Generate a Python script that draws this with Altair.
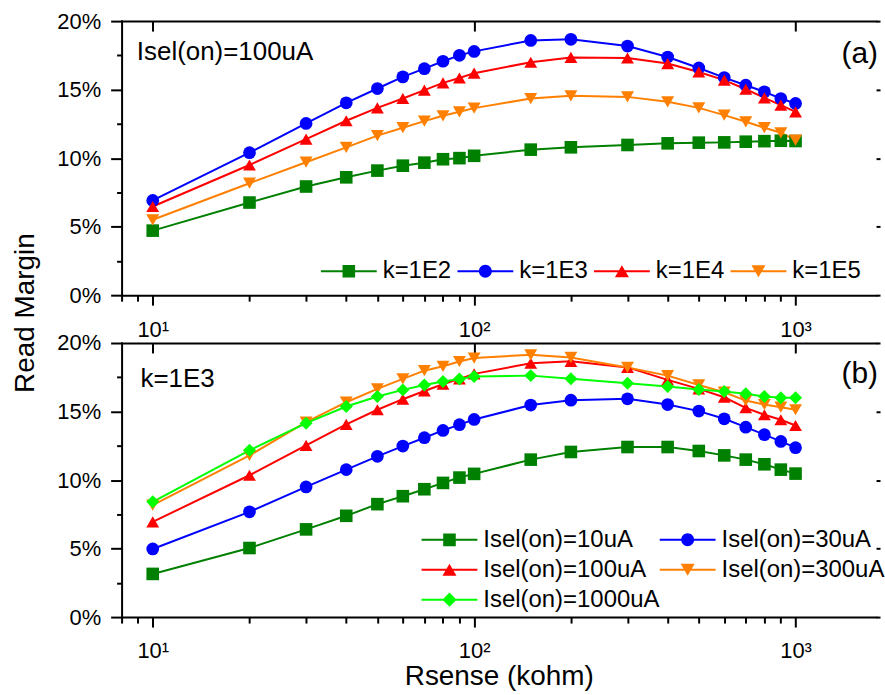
import altair as alt
import pandas as pd

# ---------------- data ----------------
R = [10, 20, 30, 40, 50, 60, 70, 80, 90, 100, 150, 200, 300, 400, 500, 600, 700, 800, 900, 1000]

A_NAMES = ["k=1E2", "k=1E3", "k=1E4", "k=1E5"]
k1e2 = [4.71, 6.76, 7.93, 8.60, 9.09, 9.45, 9.67, 9.92, 10.00, 10.17, 10.62, 10.79, 10.96, 11.08, 11.13, 11.15, 11.20, 11.24, 11.27, 11.25]
k1e3 = [6.91, 10.40, 12.53, 14.04, 15.08, 15.93, 16.53, 17.07, 17.50, 17.79, 18.59, 18.67, 18.18, 17.38, 16.58, 15.88, 15.32, 14.84, 14.35, 13.99]
k1e4 = [6.47, 9.50, 11.39, 12.73, 13.67, 14.35, 14.96, 15.49, 15.85, 16.20, 17.00, 17.35, 17.31, 16.90, 16.29, 15.69, 15.03, 14.40, 13.87, 13.38]
k1e5 = [5.50, 8.17, 9.70, 10.79, 11.64, 12.22, 12.70, 13.09, 13.38, 13.65, 14.35, 14.55, 14.47, 14.11, 13.67, 13.14, 12.65, 12.22, 11.85, 11.32]
A_VALUES = [k1e2, k1e3, k1e4, k1e5]

B_NAMES = ["Isel(on)=10uA", "Isel(on)=30uA", "Isel(on)=100uA", "Isel(on)=300uA", "Isel(on)=1000uA"]
i10 = [3.15, 5.04, 6.40, 7.39, 8.24, 8.82, 9.33, 9.79, 10.18, 10.45, 11.49, 12.05, 12.41, 12.41, 12.12, 11.80, 11.49, 11.15, 10.76, 10.47]
i30 = [4.97, 7.68, 9.50, 10.76, 11.73, 12.48, 13.09, 13.62, 14.04, 14.42, 15.47, 15.83, 15.93, 15.51, 15.03, 14.47, 13.86, 13.31, 12.82, 12.36]
i100 = [6.95, 10.35, 12.53, 14.06, 15.13, 15.90, 16.50, 16.99, 17.38, 17.75, 18.52, 18.66, 18.22, 17.31, 16.65, 16.04, 15.27, 14.76, 14.40, 13.98]
i300 = [8.17, 11.80, 14.23, 15.68, 16.65, 17.38, 17.98, 18.30, 18.65, 18.90, 19.14, 18.95, 18.22, 17.62, 16.94, 16.41, 15.80, 15.51, 15.32, 15.13]
i1000 = [8.41, 12.17, 14.15, 15.37, 16.10, 16.58, 16.94, 17.19, 17.38, 17.55, 17.62, 17.40, 17.06, 16.82, 16.60, 16.46, 16.29, 16.10, 16.00, 16.00]
B_VALUES = [i10, i30, i100, i300, i1000]

X_MAJOR = [10, 100, 1000]
X_MINOR = [8, 9, 20, 30, 40, 50, 60, 70, 80, 90, 200, 300, 400, 500, 600, 700, 800, 900]
Y_MAJOR = [0, 5, 10, 15, 20]
Y_MINOR = [2.5, 7.5, 12.5, 17.5]

A_COLORS = ["#008000", "#0000FF", "#FF0000", "#FF8000"]
A_SHAPES = ["square", "circle", "triangle-up", "triangle-down"]
B_COLORS = ["#008000", "#0000FF", "#FF0000", "#FF8000", "#00FF00"]
B_SHAPES = ["square", "circle", "triangle-up", "triangle-down", "diamond"]

# ---------------- styling ----------------
FONT = "Liberation Sans"
XDOM = [8, 1780]
W, H = 757, 275
SIZE = {"square": 160, "circle": 170, "triangle-up": 196, "triangle-down": 196, "diamond": 204}
LINE = "M-4.31,-0.154H4.31V0.154H-4.31Z"
MARK = {
    "square": "M-0.97,-0.97H0.97V0.97H-0.97Z",
    "circle": "M-1,0A1,1 0 1,1 1,0A1,1 0 1,1 -1,0Z",
    "triangle-up": "M0,-0.94L1.08,0.94L-1.08,0.94Z",
    "triangle-down": "M0,0.94L-1.08,-0.94L1.08,-0.94Z",
    "diamond": "M0,-1.1L1.1,0L0,1.1L-1.1,0Z",
}
XLABEL = "datum.value == 10 ? '10\u00b9' : (datum.value == 100 ? '10\u00b2' : '10\u00b3')"


def long_df(names, values):
    rows = []
    for name, vals in zip(names, values):
        for r, v in zip(R, vals):
            rows.append({"R": r, "M": v, "S": name})
    return pd.DataFrame(rows)


def panel(names, values, colors, shapes, leg_cols, leg_x, leg_y, col_pad,
          note, note_x, note_y, tag, tag_y, xtitle, ytitle):
    df = long_df(names, values)
    xs = alt.Scale(type="log", domain=XDOM, nice=False)
    ys = alt.Scale(domain=[0, 20], nice=False)
    cs = alt.Scale(domain=names, range=colors)
    base = alt.Chart(df)

    xaxis_kw = dict(orient="bottom", values=X_MAJOR, labelExpr=XLABEL, tickSize=10,
                    labelPadding=31, labelBaseline="alphabetic", labelFontSize=22,
                    domain=True, domainCap="square", grid=False)
    if xtitle:
        xaxis_kw.update(title=xtitle, titleFontSize=28, titleBaseline="alphabetic", titleY=68)
    else:
        xaxis_kw.update(title=None)
    yaxis_kw = dict(orient="left", values=Y_MAJOR, labelExpr="datum.value + '%'", tickSize=11,
                    labelPadding=10, labelFontSize=22, domain=True, domainCap="square", grid=False)
    if ytitle:
        yaxis_kw.update(title=ytitle, titleFontSize=28, titleX=-96, titleY=292.5, titleAngle=270,
                        titleBaseline="middle", titleAlign="center")
    else:
        yaxis_kw.update(title=None)

    xn = alt.X("R:Q", scale=xs, axis=None)
    yn = alt.Y("M:Q", scale=ys, axis=None)

    line = base.mark_line(strokeWidth=2).encode(
        x=alt.X("R:Q", scale=xs, axis=alt.Axis(**xaxis_kw)),
        y=alt.Y("M:Q", scale=ys, axis=alt.Axis(**yaxis_kw)),
        color=alt.Color("S:N", scale=cs, legend=None),
    )
    pts = base.mark_point(filled=True, opacity=1, strokeWidth=0).encode(
        x=xn, y=yn,
        color=alt.Color("S:N", scale=cs, legend=None),
        shape=alt.Shape("S:N", scale=alt.Scale(domain=names, range=shapes), legend=None),
        size=alt.Size("S:N", scale=alt.Scale(domain=names, range=[SIZE[s] for s in shapes]), legend=None),
    )
    leg_kw = dict(orient="none", legendX=leg_x, legendY=leg_y, columns=leg_cols, direction="horizontal",
                  columnPadding=col_pad, rowPadding=6, symbolSize=169, symbolOffset=16,
                  labelOffset=22, labelFont=FONT, labelFontSize=24, labelColor="black",
                  labelLimit=400, title=None, symbolStrokeWidth=0, symbolOpacity=1, padding=0)
    ghost = base.transform_filter("false")
    leg = ghost.mark_point(filled=True, opacity=1).encode(
        x=xn, y=yn,
        color=alt.Color("S:N", scale=cs, legend=alt.Legend(**leg_kw)),
        shape=alt.Shape("S:N", scale=alt.Scale(domain=names, range=[LINE + MARK[s] for s in shapes]),
                        legend=alt.Legend(**leg_kw)),
    )
    top_line = ghost.mark_point().encode(y=yn, x=alt.X("R:Q", scale=xs, axis=alt.Axis(
        orient="top", ticks=False, labels=False, domain=True, domainCap="square", grid=False, title=None)))
    top_ticks = ghost.mark_point().encode(y=yn, x=alt.X("R:Q", scale=xs, axis=alt.Axis(
        orient="top", offset=-10, values=X_MAJOR, tickSize=10, labels=False, domain=False, grid=False, title=None)))
    minor_x = ghost.mark_point().encode(y=yn, x=alt.X("R:Q", scale=xs, axis=alt.Axis(
        orient="bottom", values=X_MINOR, tickSize=6, labels=False, domain=False, grid=False, title=None)))
    minor_y = ghost.mark_point().encode(x=xn, y=alt.Y("M:Q", scale=ys, axis=alt.Axis(
        orient="left", values=Y_MINOR, tickSize=5, labels=False, domain=False, grid=False, title=None)))
    right_y = ghost.mark_point().encode(x=xn, y=alt.Y("M:Q", scale=ys, axis=alt.Axis(
        orient="right", values=Y_MAJOR, tickSize=4, labels=False, domain=False, grid=False, title=None)))

    tdf = pd.DataFrame({"t": [note, tag], "k": ["note", "tag"]})
    tb = alt.Chart(tdf)
    t1 = tb.transform_filter("datum.k == 'note'").mark_text(
        align="left", baseline="alphabetic", font=FONT, fontSize=26, color="black"
    ).encode(x=alt.value(note_x), y=alt.value(note_y), text="t:N")
    t2 = tb.transform_filter("datum.k == 'tag'").mark_text(
        align="right", baseline="alphabetic", font=FONT, fontSize=30, color="black"
    ).encode(x=alt.value(759), y=alt.value(tag_y), text="t:N")

    return alt.layer(line, pts, leg, top_line, top_ticks, minor_x, minor_y, right_y, t1, t2).properties(
        width=W, height=H
    ).resolve_scale(color="independent", shape="independent", size="independent").resolve_axis(
        x="independent", y="independent")


pa = panel(A_NAMES, A_VALUES, A_COLORS, A_SHAPES, 4, 200, 239, 5,
           "Isel(on)=100uA", 15.3, 39, "(a)", 42, None, "Read Margin")
pb = panel(B_NAMES, B_VALUES, B_COLORS, B_SHAPES, 2, 301, 185.5, -16,
           "k=1E3", 19, 44, "(b)", 40, "Rsense (kohm)", None)

chart = alt.vconcat(pa, pb, spacing=48, bounds="flush").configure_view(stroke=None).configure_axis(
    domainColor="black", tickColor="black", labelColor="black", titleColor="black",
    domainWidth=2, tickWidth=2, labelFont=FONT, titleFont=FONT, titleFontWeight="normal"
).properties(padding={"left": 12, "top": 9, "right": 0, "bottom": 0}, background="white")

chart.save("out.html", embed_options={"renderer": "svg", "actions": False})
